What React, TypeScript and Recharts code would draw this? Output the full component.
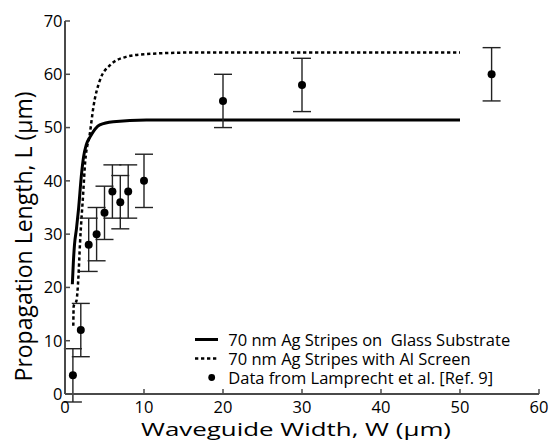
import { ComposedChart, Line, Scatter, ErrorBar, XAxis, YAxis, Legend } from 'recharts';

// model curves
const glassW = [0.93, 1.05, 1.2, 1.45, 1.7, 2.1, 2.35, 2.7, 3.2, 4.4, 6.1, 10.3, 20, 50];
const glassL = [20.6, 24.5, 28, 31, 34.5, 41.4, 44.5, 46.8, 48.3, 50.5, 51.1, 51.4, 51.4, 51.4];

const screenW = [1.05, 1.1, 1.45, 1.7, 1.9, 2.3, 2.55, 3.15, 3.6, 4.4, 5.7, 7.8, 10.3, 17, 50];
const screenL = [12.8, 16.5, 17.5, 22, 28.3, 37.6, 43.5, 48.9, 53.9, 58.8, 61.7, 63.3, 63.8, 64.1, 64.1];

// measured data (Lamprecht et al.)
const dataW = [1, 2, 3, 4, 5, 6, 7, 8, 10, 20, 30, 54];
const dataL = [3.5, 12, 28, 30, 34, 38, 36, 38, 40, 55, 58, 60];
const dataErr = [5, 5, 5, 5, 5, 5, 5, 5, 5, 5, 5, 5];

const xTicks = [0, 10, 20, 30, 40, 50, 60];
const yTicks = [0, 10, 20, 30, 40, 50, 60, 70];

const names = [
  '70 nm Ag Stripes on  Glass Substrate',
  '70 nm Ag Stripes with Al Screen',
  'Data from Lamprecht et al. [Ref. 9]',
];

const glassData = glassW.map((w, i) => ({ w, l: glassL[i] }));
const screenData = screenW.map((w, i) => ({ w, l: screenL[i] }));
const pointData = dataW.map((w, i) => ({ w, l: dataL[i], err: dataErr[i] }));

const FONT = '"Open Sans", sans-serif';
const AXIS = '#4a4a4a';

// the x title in the figure is set in a wide face, so stretch it to its measured length
const XTitle = ({ viewBox }: any) => {
  const x = viewBox.x + viewBox.width / 2 - 6;
  const y = viewBox.y + 41.5;
  return (
    <text
      x={x}
      y={y}
      textAnchor="middle"
      fontSize={19}
      fontFamily={FONT}
      fill="#000"
      textLength={310}
      lengthAdjust="spacingAndGlyphs"
    >
      Waveguide Width, W (µm)
    </text>
  );
};

const YTitle = ({ viewBox }: any) => {
  const x = viewBox.x + 31.7;
  const y = viewBox.y + viewBox.height / 2 + 29;
  return (
    <text
      x={x}
      y={y}
      transform={`rotate(-90, ${x}, ${y})`}
      textAnchor="middle"
      fontSize={23}
      fontFamily={FONT}
      fill="#000"
    >
      Propagation Length, L (µm)
    </text>
  );
};

const LegendContent = () => (
  <div style={{ fontFamily: FONT, fontSize: 16.5, lineHeight: '19px', color: '#000' }}>
    {names.map((name, i) => (
      <div key={name} style={{ display: 'flex', alignItems: 'center', whiteSpace: 'pre', height: 19 }}>
        <svg width={33.3} height={19} style={{ display: 'block' }}>
          {i === 2 ? (
            <circle cx={16.7} cy={9.5} r={3.4} fill="#000" />
          ) : (
            <line
              x1={0}
              x2={23}
              y1={9.5}
              y2={9.5}
              stroke="#000"
              strokeWidth={i === 0 ? 3 : 2.5}
              strokeDasharray={i === 1 ? '3.3 2.7' : undefined}
            />
          )}
        </svg>
        <span>{name}</span>
      </div>
    ))}
  </div>
);

export default function App() {
  return (
    <div style={{ position: 'absolute', left: 0, top: 0, width: 551, height: 441, background: '#fff' }}>
      <ComposedChart width={551} height={441} margin={{ top: 21, right: 12, bottom: 0, left: 0 }}>
        <XAxis
          xAxisId={0}
          dataKey="w"
          type="number"
          domain={[0, 60]}
          ticks={xTicks}
          allowDataOverflow
          height={47}
          tickSize={-5}
          tickMargin={12.6}
          axisLine={{ stroke: AXIS, strokeWidth: 2 }}
          tickLine={{ stroke: AXIS, strokeWidth: 1.5 }}
          tick={{ fill: '#000', fontSize: 16.5, fontFamily: FONT }}
          label={(props: any) => <XTitle {...props} />}
        />
        <XAxis
          xAxisId="top"
          orientation="top"
          type="number"
          domain={[0, 60]}
          ticks={xTicks}
          height={0}
          tickSize={-5}
          tick={false}
          axisLine={{ stroke: AXIS, strokeWidth: 2 }}
          tickLine={{ stroke: AXIS, strokeWidth: 1.5 }}
        />
        <YAxis
          yAxisId={0}
          dataKey="l"
          type="number"
          domain={[0, 70]}
          ticks={yTicks}
          allowDataOverflow
          width={65}
          tickSize={-5}
          tickMargin={7.5}
          axisLine={{ stroke: AXIS, strokeWidth: 2 }}
          tickLine={{ stroke: AXIS, strokeWidth: 1.5 }}
          tick={{ fill: '#000', fontSize: 16.5, fontFamily: FONT }}
          label={(props: any) => <YTitle {...props} />}
        />
        <YAxis
          yAxisId="right"
          orientation="right"
          type="number"
          domain={[0, 70]}
          ticks={yTicks}
          width={0}
          tickSize={-5}
          tick={false}
          axisLine={{ stroke: AXIS, strokeWidth: 2 }}
          tickLine={{ stroke: AXIS, strokeWidth: 1.5 }}
        />

        <Line
          data={glassData}
          dataKey="l"
          name={names[0]}
          type="monotone"
          stroke="#000"
          strokeWidth={3}
          dot={false}
          isAnimationActive={false}
        />
        <Line
          data={screenData}
          dataKey="l"
          name={names[1]}
          type="monotone"
          stroke="#000"
          strokeWidth={2.5}
          strokeDasharray="3.3 2.7"
          dot={false}
          isAnimationActive={false}
        />
        <Scatter
          data={pointData}
          dataKey="l"
          name={names[2]}
          fill="#000"
          shape={(p: any) => <circle cx={p.cx} cy={p.cy} r={4} fill="#000" />}
          isAnimationActive={false}
        >
          <ErrorBar dataKey="err" direction="y" width={9} stroke="#222" strokeWidth={1.4} isAnimationActive={false} />
        </Scatter>

        <Legend
          layout="vertical"
          align="center"
          verticalAlign="middle"
          content={<LegendContent />}
          wrapperStyle={{ left: 195, top: 329.5, width: 'auto' }}
        />
      </ComposedChart>
    </div>
  );
}
